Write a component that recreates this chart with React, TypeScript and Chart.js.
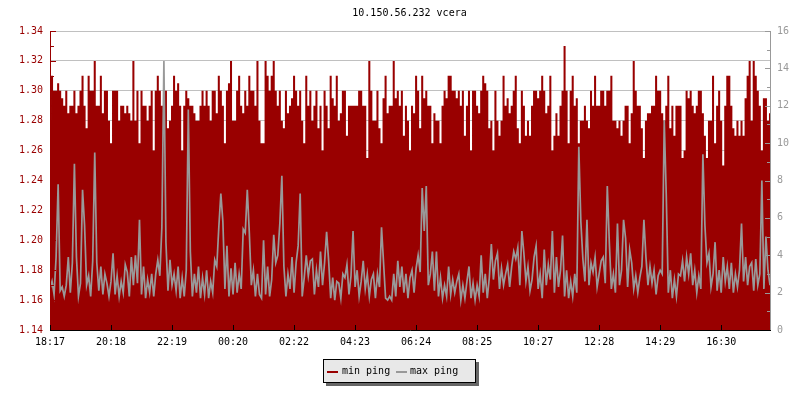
import React, { useEffect, useRef } from "react";
import { Chart, registerables } from "chart.js";

Chart.register(...registerables);

const chartTitle = "10.150.56.232 vcera";
const tickLabels = ["18:17", "20:18", "22:19", "00:20", "02:22", "04:23", "06:24", "08:25", "10:27", "12:28", "14:29", "16:30"];
const TICK_EVERY = 30;
const leftTicks = [1.14, 1.16, 1.18, 1.2, 1.22, 1.24, 1.26, 1.28, 1.3, 1.32, 1.34];
const rightTicks = [0, 2, 4, 6, 8, 10, 12, 14, 16];

const minPing = [
  1.28, 1.31, 1.30, 1.30, 1.305, 1.30, 1.295, 1.29, 1.30, 1.285, 1.29, 1.29, 1.30, 1.285, 1.29, 1.30, 1.31, 1.29, 1.275, 1.31, 1.30, 1.30, 1.32, 1.29, 1.29, 1.31, 1.285, 1.30, 1.30, 1.28,
  1.265, 1.30, 1.30, 1.30, 1.28, 1.29, 1.29, 1.285, 1.29, 1.285, 1.28, 1.32, 1.28, 1.30, 1.265, 1.30, 1.29, 1.29, 1.28, 1.29, 1.30, 1.26, 1.30, 1.31, 1.30, 1.29, 1.29, 1.30, 1.275, 1.28,
  1.29, 1.31, 1.30, 1.305, 1.29, 1.26, 1.29, 1.30, 1.295, 1.29, 1.29, 1.285, 1.28, 1.28, 1.29, 1.30, 1.29, 1.30, 1.29, 1.28, 1.30, 1.30, 1.285, 1.31, 1.30, 1.29, 1.265, 1.30, 1.305, 1.32,
  1.28, 1.28, 1.30, 1.31, 1.29, 1.285, 1.30, 1.29, 1.31, 1.30, 1.30, 1.29, 1.32, 1.28, 1.265, 1.265, 1.32, 1.31, 1.30, 1.31, 1.32, 1.30, 1.29, 1.30, 1.28, 1.275, 1.30, 1.285, 1.29, 1.295,
  1.31, 1.30, 1.29, 1.30, 1.28, 1.265, 1.31, 1.29, 1.30, 1.28, 1.29, 1.30, 1.275, 1.29, 1.26, 1.30, 1.29, 1.275, 1.31, 1.295, 1.29, 1.31, 1.28, 1.285, 1.30, 1.30, 1.27, 1.29, 1.29, 1.29,
  1.29, 1.29, 1.30, 1.30, 1.29, 1.29, 1.255, 1.32, 1.30, 1.28, 1.28, 1.30, 1.275, 1.265, 1.295, 1.31, 1.285, 1.29, 1.29, 1.32, 1.295, 1.30, 1.29, 1.30, 1.27, 1.29, 1.28, 1.26, 1.29, 1.285,
  1.31, 1.30, 1.275, 1.31, 1.295, 1.30, 1.29, 1.29, 1.265, 1.285, 1.28, 1.28, 1.265, 1.29, 1.30, 1.295, 1.31, 1.31, 1.30, 1.30, 1.295, 1.30, 1.29, 1.30, 1.27, 1.29, 1.30, 1.26, 1.30, 1.30,
  1.29, 1.285, 1.30, 1.31, 1.305, 1.30, 1.275, 1.28, 1.26, 1.30, 1.28, 1.27, 1.28, 1.31, 1.29, 1.295, 1.285, 1.29, 1.30, 1.31, 1.275, 1.265, 1.30, 1.29, 1.27, 1.28, 1.27, 1.29, 1.30, 1.30,
  1.295, 1.30, 1.31, 1.30, 1.285, 1.29, 1.31, 1.26, 1.27, 1.285, 1.27, 1.29, 1.30, 1.33, 1.30, 1.265, 1.30, 1.31, 1.29, 1.295, 1.265, 1.28, 1.28, 1.29, 1.28, 1.275, 1.30, 1.29, 1.31, 1.29,
  1.29, 1.30, 1.30, 1.29, 1.30, 1.30, 1.31, 1.28, 1.28, 1.275, 1.28, 1.27, 1.28, 1.29, 1.29, 1.265, 1.285, 1.32, 1.30, 1.29, 1.29, 1.275, 1.255, 1.28, 1.285, 1.285, 1.29, 1.29, 1.31, 1.30,
  1.30, 1.285, 1.28, 1.29, 1.31, 1.275, 1.29, 1.27, 1.29, 1.29, 1.29, 1.255, 1.26, 1.30, 1.295, 1.30, 1.29, 1.285, 1.29, 1.30, 1.30, 1.285, 1.27, 1.255, 1.28, 1.28, 1.31, 1.265, 1.29, 1.30,
  1.28, 1.25, 1.29, 1.31, 1.31, 1.29, 1.275, 1.27, 1.28, 1.27, 1.28, 1.27, 1.295, 1.31, 1.32, 1.28, 1.32, 1.31, 1.30, 1.29, 1.26, 1.295, 1.295, 1.28, 1.285,
];

const maxPing = [
  2.2, 2.6, 1.9, 3.9, 7.8, 2.1, 2.3, 1.8, 2.4, 3.9, 2.0, 3.6, 8.9, 3.9, 1.8, 2.5, 7.5, 5.6, 2.4, 2.9, 1.8, 3.7, 9.5, 3.6, 2.1, 3.4, 1.9, 3.0, 2.5, 1.8,
  2.6, 4.1, 1.9, 2.9, 1.8, 2.6, 2.0, 3.5, 3.1, 1.8, 3.9, 2.4, 4.0, 2.5, 5.9, 1.9, 3.4, 1.7, 2.7, 2.0, 3.0, 1.8, 3.0, 3.75, 2.9, 5.5, 14.4, 4.7, 2.1, 3.75,
  2.4, 3.0, 2.1, 3.4, 1.7, 2.8, 1.8, 3.2, 11.8, 4.2, 1.8, 3.0, 2.0, 3.4, 1.7, 2.8, 1.9, 3.2, 1.7, 2.6, 2.0, 3.75, 3.4, 5.5, 7.3, 5.8, 2.2, 4.5, 1.8, 3.3,
  1.9, 3.6, 2.0, 3.0, 2.2, 5.4, 5.2, 7.5, 5.2, 2.4, 3.2, 1.8, 3.0, 1.9, 1.7, 4.8, 1.9, 3.4, 1.8, 2.7, 5.1, 3.6, 4.0, 5.7, 8.25, 3.4, 1.8, 3.0, 2.2, 3.9,
  2.0, 3.6, 4.5, 7.3, 1.8, 2.8, 4.0, 2.9, 3.7, 3.8, 1.9, 3.2, 2.3, 4.2, 2.4, 3.6, 5.25, 3.7, 1.7, 2.8, 1.6, 2.6, 2.5, 1.7, 3.0, 2.8, 3.5, 1.9, 2.9, 5.3,
  2.3, 3.2, 1.8, 2.6, 3.7, 2.2, 3.0, 1.8, 2.7, 3.0, 1.7, 3.0, 2.3, 5.5, 3.6, 1.7, 1.6, 1.8, 1.6, 3.0, 1.8, 3.7, 2.3, 3.4, 2.0, 3.0, 1.7, 2.8, 3.2, 2.0,
  3.3, 4.0, 3.1, 7.6, 5.3, 7.7, 2.4, 3.0, 4.2, 2.1, 4.2, 1.8, 2.8, 1.7, 2.4, 1.8, 3.4, 1.9, 2.7, 2.0, 2.6, 3.0, 1.6, 2.4, 1.7, 2.6, 3.4, 1.7, 2.5, 1.6,
  2.4, 1.8, 4.0, 2.0, 3.0, 1.7, 2.8, 4.6, 2.7, 3.7, 4.1, 2.2, 3.3, 2.4, 3.0, 3.5, 2.3, 3.4, 4.2, 3.8, 4.4, 2.4, 5.3, 4.1, 2.6, 3.4, 2.1, 2.7, 3.9, 4.5,
  2.2, 3.0, 1.7, 4.3, 2.4, 3.5, 2.7, 5.3, 2.0, 3.9, 2.3, 3.2, 5.05, 1.8, 3.2, 1.7, 2.6, 1.8, 3.0, 2.0, 9.8, 5.8, 3.8, 2.6, 5.9, 2.4, 3.6, 3.1, 3.9, 2.3,
  3.0, 3.7, 3.9, 2.5, 7.7, 4.7, 2.2, 3.0, 2.0, 5.7, 2.4, 3.2, 5.9, 4.9, 2.3, 4.3, 3.6, 2.2, 2.9, 2.0, 2.8, 3.4, 5.9, 3.9, 2.4, 3.4, 2.5, 3.2, 1.9, 2.9,
  3.2, 3.0, 11.2, 7.2, 2.0, 3.2, 1.7, 2.7, 1.8, 3.0, 2.9, 3.7, 2.6, 3.9, 3.0, 4.1, 2.4, 3.2, 2.0, 2.9, 2.2, 9.4, 5.6, 3.6, 4.1, 2.3, 3.0, 4.7, 2.1, 3.2,
  2.0, 3.9, 2.6, 3.4, 2.2, 3.6, 2.0, 3.0, 2.3, 3.2, 5.7, 2.6, 3.9, 2.4, 3.4, 3.6, 2.1, 3.8, 2.4, 3.0, 8.0, 2.2, 5.0, 3.2, 2.4,
];

const FONT = "'DejaVu Sans Mono', 'Liberation Mono', monospace";
const RED = "#990000";
const GRAY = "#999999";

const decor = {
  id: "decor",
  afterDatasetsDraw(chart: any) {
    const { ctx, chartArea: a, scales } = chart;
    const y = scales.y;
    const y2 = scales.y2;
    const x = scales.x;
    ctx.save();
    ctx.lineWidth = 1;

    // left axis
    ctx.strokeStyle = RED;
    ctx.beginPath();
    ctx.moveTo(a.left + 0.5, a.top);
    ctx.lineTo(a.left + 0.5, a.bottom + 1);
    ctx.stroke();
    for (let k = 0; k < leftTicks.length; k++) {
      const py = Math.round(y.getPixelForValue(leftTicks[k])) + 0.5;
      ctx.beginPath();
      ctx.moveTo(a.left, py);
      ctx.lineTo(a.left + 6, py);
      ctx.stroke();
      if (k < leftTicks.length - 1) {
        const my = Math.round(y.getPixelForValue((leftTicks[k] + leftTicks[k + 1]) / 2)) + 0.5;
        ctx.beginPath();
        ctx.moveTo(a.left, my);
        ctx.lineTo(a.left + 4, my);
        ctx.stroke();
      }
    }

    // right axis
    ctx.strokeStyle = GRAY;
    ctx.beginPath();
    ctx.moveTo(a.right + 0.5, a.top);
    ctx.lineTo(a.right + 0.5, a.bottom + 1);
    ctx.stroke();
    for (let k = 0; k < rightTicks.length; k++) {
      const py = Math.round(y2.getPixelForValue(rightTicks[k])) + 0.5;
      ctx.beginPath();
      ctx.moveTo(a.right + 1, py);
      ctx.lineTo(a.right - 5, py);
      ctx.stroke();
      if (k < rightTicks.length - 1) {
        const my = Math.round(y2.getPixelForValue((rightTicks[k] + rightTicks[k + 1]) / 2)) + 0.5;
        ctx.beginPath();
        ctx.moveTo(a.right + 1, my);
        ctx.lineTo(a.right - 3, my);
        ctx.stroke();
      }
    }

    // bottom axis
    ctx.strokeStyle = "#000000";
    ctx.beginPath();
    ctx.moveTo(a.left, a.bottom + 0.5);
    ctx.lineTo(a.right + 1, a.bottom + 0.5);
    ctx.stroke();
    for (let k = 0; k < tickLabels.length; k++) {
      const px = Math.round(x.getPixelForValue(k * TICK_EVERY)) + 0.5;
      ctx.beginPath();
      ctx.moveTo(px, a.bottom - 5);
      ctx.lineTo(px, a.bottom + 1);
      ctx.stroke();
    }
    ctx.restore();
  },
  afterDraw(chart: any) {
    const { ctx } = chart;
    ctx.save();
    ctx.font = `10px ${FONT}`;
    ctx.fillStyle = "#000";
    ctx.textAlign = "center";
    ctx.textBaseline = "middle";
    ctx.fillText(chartTitle, 409.5, 13.5);

    // legend box
    const bx = 323, by = 359, bw = 153, bh = 24;
    ctx.fillStyle = "#666666";
    ctx.fillRect(bx + 3, by + 3, bw, bh);
    ctx.fillStyle = "#e8e8e8";
    ctx.fillRect(bx, by, bw, bh);
    ctx.strokeStyle = "#000";
    ctx.lineWidth = 1;
    ctx.strokeRect(bx + 0.5, by + 0.5, bw - 1, bh - 1);

    ctx.fillStyle = RED;
    ctx.fillRect(bx + 4, by + 12, 11, 2);
    ctx.fillStyle = GRAY;
    ctx.fillRect(bx + 73, by + 12, 11, 2);

    ctx.fillStyle = "#000";
    ctx.textAlign = "left";
    ctx.fillText("min ping", bx + 19, by + 12.5);
    ctx.fillText("max ping", bx + 87, by + 12.5);
    ctx.restore();
  },
};

export default function App() {
  const ref = useRef<HTMLCanvasElement>(null);

  useEffect(() => {
    if (!ref.current) return;
    Chart.defaults.font.family = FONT;
    Chart.defaults.font.size = 10;
    const chart = new Chart(ref.current, {
      type: "line",
      data: {
        datasets: [
          {
            label: "min ping",
            data: minPing.map((v, i) => ({ x: i, y: v })),
            xAxisID: "x",
            yAxisID: "y",
            borderColor: RED,
            backgroundColor: RED,
            borderWidth: 0,
            fill: "start",
            stepped: "middle",
            pointRadius: 0,
            order: 2,
          },
          {
            label: "max ping",
            data: maxPing.map((v, i) => ({ x: i, y: v })),
            xAxisID: "x",
            yAxisID: "y2",
            borderColor: GRAY,
            backgroundColor: GRAY,
            borderWidth: 1.7,
            fill: false,
            tension: 0,
            pointRadius: 0,
            order: 1,
          },
        ],
      },
      options: {
        responsive: false,
        animation: false,
        devicePixelRatio: 1,
        layout: { padding: { top: 31, left: 0, right: 0, bottom: 0 } },
        plugins: {
          legend: { display: false },
          title: { display: false },
          tooltip: { enabled: false },
        },
        scales: {
          x: {
            type: "linear",
            position: "bottom",
            min: 0,
            max: minPing.length - 1,
            grid: { display: false, drawTicks: false },
            border: { display: false },
            afterBuildTicks: (s: any) => {
              s.ticks = tickLabels.map((_, k) => ({ value: k * TICK_EVERY }));
            },
            afterFit: (s: any) => {
              s.height = 70;
            },
            ticks: {
              autoSkip: false,
              maxRotation: 0,
              color: "#000",
              padding: 6,
              font: { family: FONT, size: 10 },
              callback: (v: any) => tickLabels[Math.round(Number(v) / TICK_EVERY)] ?? "",
            },
          },
          y: {
            type: "linear",
            position: "left",
            min: leftTicks[0],
            max: leftTicks[leftTicks.length - 1],
            grid: { color: "#c0c0c0", drawTicks: false, lineWidth: 1 },
            border: { display: false },
            afterBuildTicks: (s: any) => {
              s.ticks = leftTicks.map((v) => ({ value: v }));
            },
            afterFit: (s: any) => {
              s.width = 50;
            },
            ticks: {
              color: RED,
              padding: 7,
              font: { family: FONT, size: 10 },
              callback: (v: any) => Number(v).toFixed(2),
            },
          },
          y2: {
            type: "linear",
            position: "right",
            min: rightTicks[0],
            max: rightTicks[rightTicks.length - 1],
            grid: { display: false, drawTicks: false },
            border: { display: false },
            afterBuildTicks: (s: any) => {
              s.ticks = rightTicks.map((v) => ({ value: v }));
            },
            afterFit: (s: any) => {
              s.width = 30;
            },
            ticks: {
              color: GRAY,
              padding: 7,
              font: { family: FONT, size: 10 },
              callback: (v: any) => String(v),
            },
          },
        },
      },
      plugins: [decor],
    });
    return () => chart.destroy();
  }, []);

  return (
    <div style={{ position: "absolute", left: 0, top: 0, width: 800, height: 400, background: "#fff" }}>
      <canvas ref={ref} width={800} height={400} style={{ display: "block", width: 800, height: 400 }} />
    </div>
  );
}
